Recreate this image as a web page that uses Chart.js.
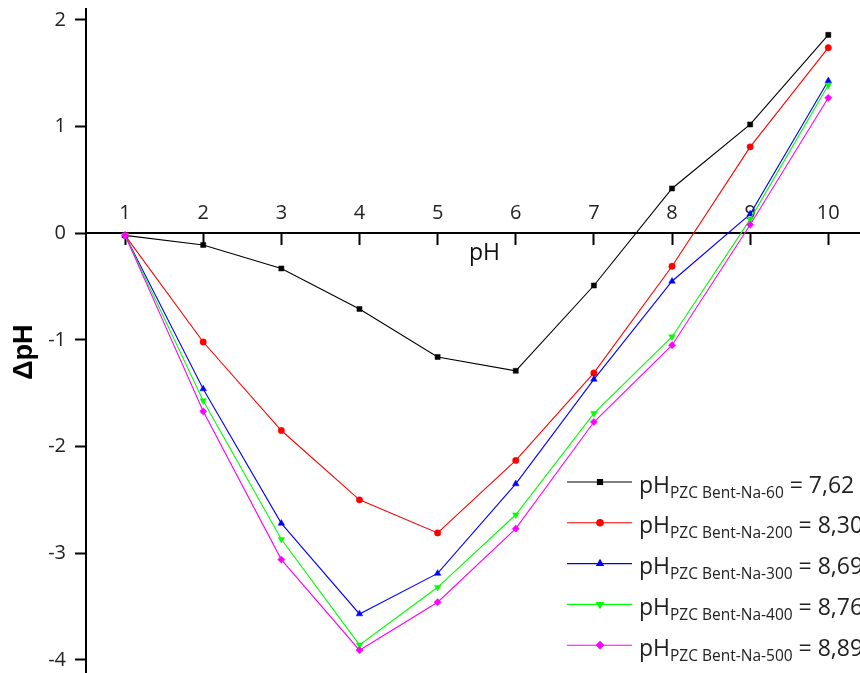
<!DOCTYPE html>
<html>
<head>
<meta charset="utf-8">
<script src="https://cdn.jsdelivr.net/npm/chart.js@4/dist/chart.umd.min.js"></script>
<style>
  html, body { margin: 0; padding: 0; background: #fff; overflow: hidden; }
  #wrap { width: 860px; height: 673px; position: relative; overflow: hidden; }
  #c { position: absolute; left: 0; top: 0; }
</style>
</head>
<body>
<div id="wrap"><canvas id="c" width="883" height="695"></canvas></div>
<script>
// Initial pH values (x) and measured ΔpH for each calcination temperature
const phInitial = [1, 2, 3, 4, 5, 6, 7, 8, 9, 10];
const dpH60  = [-0.02, -0.11, -0.33, -0.71, -1.16, -1.29, -0.49, 0.42, 1.02, 1.86];
const dpH200 = [-0.02, -1.02, -1.85, -2.50, -2.81, -2.13, -1.31, -0.31, 0.81, 1.74];
const dpH300 = [-0.02, -1.46, -2.72, -3.57, -3.19, -2.35, -1.37, -0.45, 0.18, 1.43];
const dpH400 = [-0.02, -1.57, -2.87, -3.86, -3.32, -2.64, -1.69, -0.97, 0.13, 1.39];
const dpH500 = [-0.02, -1.67, -3.06, -3.91, -3.46, -2.77, -1.77, -1.05, 0.08, 1.27];

const sampleNames = ['Bent-Na-60', 'Bent-Na-200', 'Bent-Na-300', 'Bent-Na-400', 'Bent-Na-500'];
const pzcValues = ['7,62', '8,30', '8,69', '8,76', '8,89'];

const xTickValues = [1, 2, 3, 4, 5, 6, 7, 8, 9, 10];
const yTickValues = [-4, -3, -2, -1, 0, 1, 2];

const seriesList = [dpH60, dpH200, dpH300, dpH400, dpH500];
const colors = ['#000000', '#ff0000', '#0000ff', '#00ff00', '#ff00ff'];
const markers = [
  { style: 'rect', radius: 3.6, rotation: 0 },
  { style: 'circle', radius: 3.2, rotation: 0 },
  { style: 'triangle', radius: 3.8, rotation: 0 },
  { style: 'triangle', radius: 3.8, rotation: 180 },
  { style: 'rectRot', radius: 3.6, rotation: 0 }
];

const datasets = seriesList.map((vals, i) => ({
  label: 'pH PZC ' + sampleNames[i] + ' = ' + pzcValues[i],
  data: phInitial.map((x, j) => ({ x: x, y: vals[j] })),
  borderColor: colors[i],
  backgroundColor: colors[i],
  borderWidth: 1.1,
  pointStyle: markers[i].style,
  pointRadius: markers[i].radius,
  pointRotation: markers[i].rotation,
  pointBorderWidth: 0.5,
  pointHoverRadius: markers[i].radius,
  tension: 0,
  order: seriesList.length - i
}));

// Legend with subscripted "PZC <sample>" text, drawn in the lower right
const legendLayout = { lineX0: 567, lineX1: 632, markX: 600, textX: 639, rowY0: 482, rowStep: 40.8 };

const pzcLegend = {
  id: 'pzcLegend',
  afterDraw(chart) {
    const ctx = chart.ctx;
    const L = legendLayout;
    ctx.save();
    chart.data.datasets.forEach((ds, i) => {
      const y = L.rowY0 + i * L.rowStep;
      ctx.strokeStyle = ds.borderColor;
      ctx.lineWidth = 1.1;
      ctx.beginPath();
      ctx.moveTo(L.lineX0, y);
      ctx.lineTo(L.lineX1, y);
      ctx.stroke();
      ctx.fillStyle = ds.backgroundColor;
      Chart.helpers.drawPoint(ctx, {
        pointStyle: ds.pointStyle,
        radius: ds.pointRadius,
        rotation: ds.pointRotation,
        borderWidth: 0.5
      }, L.markX, y);

      ctx.fillStyle = '#222';
      ctx.textBaseline = 'alphabetic';
      ctx.textAlign = 'left';
      let x = L.textX;
      ctx.font = '23px "Open Sans"';
      ctx.fillText('pH', x, y + 10.5);
      x += ctx.measureText('pH').width;
      ctx.font = '15.5px "Open Sans"';
      const sub = 'PZC ' + sampleNames[i];
      ctx.fillText(sub, x, y + 15.5);
      x += ctx.measureText(sub).width;
      ctx.font = '23px "Open Sans"';
      ctx.fillText(' = ' + pzcValues[i], x, y + 10.5);
    });
    ctx.restore();
  }
};

new Chart(document.getElementById('c'), {
  type: 'line',
  data: { datasets: datasets },
  plugins: [pzcLegend],
  options: {
    responsive: false,
    animation: false,
    events: [],
    layout: { autoPadding: false, padding: { top: 9.3, bottom: 0, left: 0, right: 0 } },
    plugins: { legend: { display: false }, tooltip: { enabled: false } },
    scales: {
      x: {
        type: 'linear',
        min: 0.5,
        max: 10.7,
        position: { y: 0 },
        border: { display: true, color: '#000', width: 2 },
        grid: { drawOnChartArea: false, drawTicks: true, tickLength: 11, tickWidth: 2, tickColor: '#000' },
        ticks: {
          padding: -43,
          color: '#222',
          font: { family: 'Open Sans', size: 20 },
          maxRotation: 0,
          autoSkip: false
        },
        title: {
          display: true,
          text: 'pH',
          color: '#111',
          font: { family: 'Open Sans', size: 23 },
          padding: { top: 57, bottom: 0 }
        },
        afterBuildTicks(scale) { scale.ticks = xTickValues.map(v => ({ value: v })); },
        afterFit(scale) { scale.paddingLeft = 0; scale.paddingRight = 0; }
      },
      y: {
        type: 'linear',
        min: -4.33,
        max: 2.1,
        position: 'left',
        border: { display: true, color: '#000', width: 2 },
        grid: { drawOnChartArea: false, drawTicks: true, tickLength: 11, tickWidth: 2, tickColor: '#000' },
        ticks: {
          padding: 9,
          color: '#222',
          font: { family: 'Open Sans', size: 20 }
        },
        title: {
          display: true,
          text: 'ΔpH',
          color: '#000',
          font: { family: 'Liberation Sans', size: 27, weight: 'bold' },
          padding: { top: 8, bottom: 0 }
        },
        afterBuildTicks(scale) { scale.ticks = yTickValues.map(v => ({ value: v })); },
        afterFit(scale) { scale.width = 86; scale.paddingTop = 0; scale.paddingBottom = 0; }
      }
    }
  }
});
</script>
</body>
</html>
